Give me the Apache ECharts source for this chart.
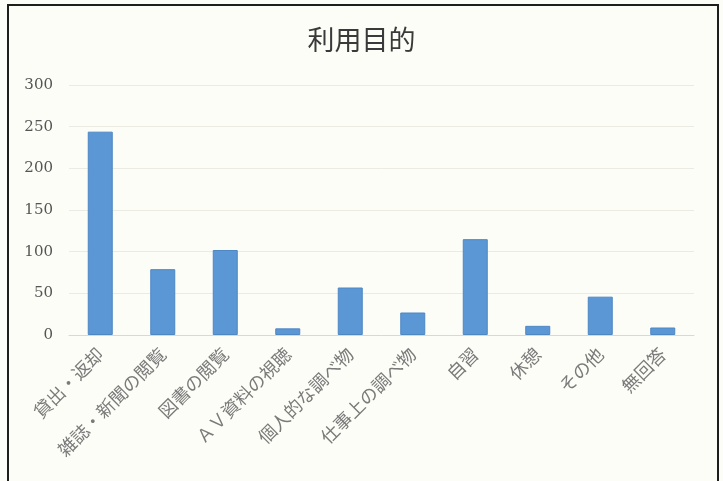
<!DOCTYPE html>
<html>
<head>
<meta charset="utf-8">
<script src="https://cdn.jsdelivr.net/npm/echarts@6/dist/echarts.min.js"></script>
<style>
html,body{margin:0;padding:0;background:#fdfdf8;}
#c{width:723px;height:481px;}
</style>
</head>
<body>
<div id="c"></div>
<script>
var titleText = '利用目的';
var categories = ['貸出・返却','雑誌・新聞の閲覧','図書の閲覧','ＡＶ資料の視聴','個人的な調べ物','仕事上の調べ物','自習','休憩','その他','無回答'];
var values = [244, 79, 102, 8, 57, 27, 115, 11, 46, 9];
var yTicks = [0, 50, 100, 150, 200, 250, 300];

var chart = echarts.init(document.getElementById('c'));
chart.setOption({
  backgroundColor: '#fdfdf8',
  animation: false,
  title: {
    text: titleText,
    left: 'center',
    top: 26,
    padding: 0,
    textStyle: {fontFamily: 'Noto Sans CJK JP', fontSize: 27, fontWeight: 'normal', color: '#3a3a3a'}
  },
  graphic: [{
    type: 'polyline',
    shape: {points: [[8, 490], [8, 5], [718, 5], [718, 490]]},
    style: {stroke: '#1e1e1e', lineWidth: 2, fill: null},
    silent: true
  }],
  grid: {left: 69, right: 29, top: 85, bottom: 146},
  xAxis: {
    type: 'category',
    data: categories,
    axisLine: {lineStyle: {color: '#d9d9d4'}},
    axisTick: {show: false},
    axisLabel: {
      rotate: 45,
      margin: 16,
      interval: 0,
      fontFamily: 'Noto Sans CJK JP',
      fontSize: 18,
      color: '#7a7a7a'
    }
  },
  yAxis: {
    type: 'value',
    min: yTicks[0],
    max: yTicks[yTicks.length - 1],
    interval: 50,
    axisLine: {show: false},
    axisTick: {show: false},
    splitLine: {lineStyle: {color: '#ebebe4'}},
    axisLabel: {
      margin: 16,
      fontFamily: 'DejaVu Serif',
      fontSize: 15,
      color: '#555555'
    }
  },
  series: [{
    type: 'bar',
    data: values,
    barWidth: '40%',
    itemStyle: {color: '#5b97d4', borderColor: '#4d87c4', borderWidth: 1}
  }]
});
</script>
</body>
</html>
